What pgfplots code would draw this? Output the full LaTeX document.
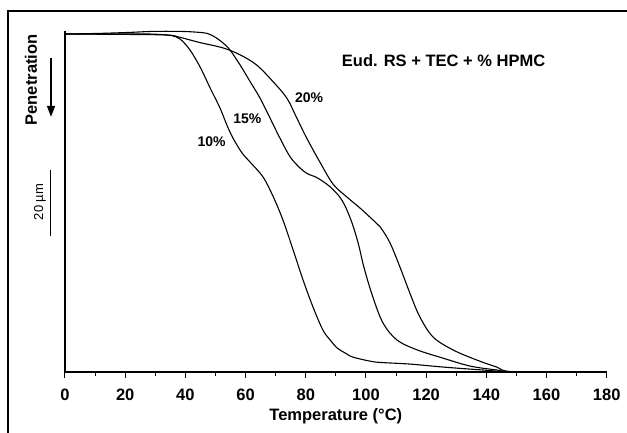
\documentclass[border=0pt]{standalone}
\usepackage{fontspec}
\setmainfont{Liberation Sans}
\usepackage{pgfplots}
\pgfplotsset{compat=1.18}
\usetikzlibrary{arrows.meta}
\begin{document}
\begin{tikzpicture}[x=1pt,y=1pt]
\useasboundingbox (0,0) rectangle (627,433);
\draw[line width=2pt] (8,-5) -- (8,422) -- (640,422);
\begin{axis}[
  at={(65pt,61pt)}, anchor=south west,
  scale only axis, width=541.7pt, height=340.6pt,
  xmin=0, xmax=180, ymin=0, ymax=103.2,
  axis x line=bottom, axis y line=left,
  axis line style={-},
  x axis line style={line width=1.3pt},
  y axis line style={line width=1.8pt},
  xtick={0,20,...,180}, minor x tick num=1,
  ytick=\empty,
  tick align=outside,
  major tick length=6pt, minor tick length=4pt,
  tick style={line width=1pt, black},
  xticklabel style={font=\bfseries\fontsize{16.5}{18}\selectfont, anchor=center, yshift=-17pt},
  /pgf/number format/assume math mode=true,
  xlabel={Temperature (°C)},
  xlabel style={font=\bfseries\fontsize{16.5}{18}\selectfont, at={(axis description cs:0.5,0)}, anchor=center, yshift=-44pt},
  clip=false,
]
% 10% HPMC
\addplot[black, line width=1.1pt, smooth, tension=0.55] coordinates {
(0,102.4) (18.3,102.4) (28.2,102.4) (34.9,102.0) (38.2,100.9) (41.5,97.6)
(44.9,92.4) (48.2,86.1) (51.5,80.0) (53.8,74.8) (55.8,70.9) (58.8,66.4)
(61.5,63.6) (65.8,59.1) (69.1,53.3) (72.4,46.1) (75.8,37.0) (79.1,27.9)
(82.4,19.7) (85.7,12.7) (88.1,9.7) (90.4,7.3) (93.0,5.8) (95.7,4.5)
(101.3,3.3) (104.7,2.9) (114.6,2.4) (125.6,1.5) (138.9,0.6) (148.9,0.1) (180,0)
};
% 15% HPMC
\addplot[black, line width=1.1pt, smooth, tension=0.55] coordinates {
(0,102.4) (11.6,102.6) (21.6,102.9) (29.2,103.2) (38.2,103.2) (43.2,103.0)
(47.2,102.6) (49.8,101.5) (52.5,99.7) (54.8,97.6) (58.2,93.0) (61.5,88.0)
(64.8,83.0) (68.1,77.0) (71.4,70.9) (74.8,65.2) (78.1,61.8) (80.7,60.0)
(83.7,58.9) (88.1,56.1) (92.0,52.1) (95.0,46.1) (97.4,39.1) (99.4,31.5)
(102.3,22.7) (105.7,14.8) (110.3,9.7) (117.0,6.7) (125.6,4.2) (134.6,1.8)
(143.5,0.6) (149.5,0.05) (180,0)
};
% 20% HPMC
\addplot[black, line width=1.1pt, smooth, tension=0.55] coordinates {
(0,102.4) (18.3,102.3) (33.9,102.1) (38.2,101.4) (44.9,99.8) (52.5,98.2)
(58.2,96.1) (63.7,93.0) (69.1,88.0) (73.7,83.0) (77.0,77.0) (80.3,70.9)
(84.7,63.6) (89.1,56.9) (93.7,53.0) (98.0,49.7) (102.3,46.1) (104.7,44.0)
(108.0,39.1) (111.3,31.8) (114.6,23.9) (117.9,16.7) (122.3,10.6) (128.9,6.7)
(136.9,3.6) (143.5,1.5) (149.5,0.05) (180,0)
};
\node[font=\bfseries\fontsize{14}{16}\selectfont] at (axis cs:48.7,69.9) {10\%};
\node[font=\bfseries\fontsize{14}{16}\selectfont] at (axis cs:60.6,76.8) {15\%};
\node[font=\bfseries\fontsize{14}{16}\selectfont] at (axis cs:81.1,83.0) {20\%};
\node[font=\bfseries\fontsize{16.5}{18}\selectfont] at (axis cs:125.8,94.2) {Eud. RS + TEC + \% HPMC};
\node[font=\bfseries\fontsize{16.5}{18}\selectfont, rotate=90] at (axis cs:-11.3,88.5) {Penetration};
\draw[line width=1.3pt, -{Triangle[length=11pt,width=8pt]}] (axis cs:-4.65,95.2) -- (axis cs:-4.65,77.3);
\draw[line width=1pt] (axis cs:-4.98,41.2) -- (axis cs:-4.98,61.2);
\node[font=\fontsize{13}{15}\selectfont, rotate=90] at (axis cs:-8.31,51.5) {20 µm};
\end{axis}
\end{tikzpicture}
\end{document}
